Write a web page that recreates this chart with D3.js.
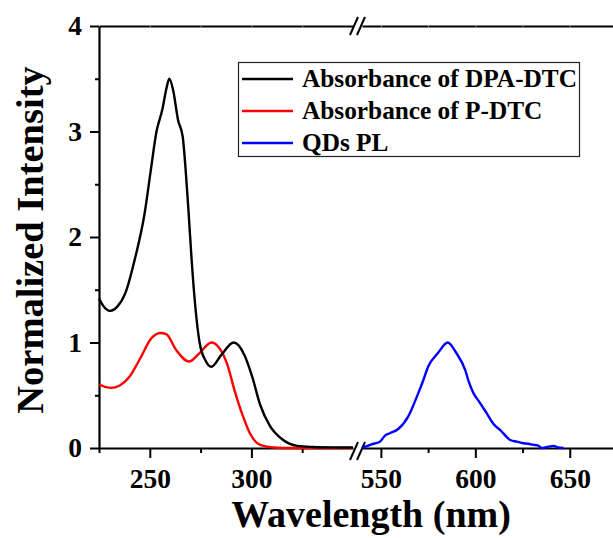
<!DOCTYPE html>
<html>
<head>
<meta charset="utf-8">
<script src="https://cdn.jsdelivr.net/npm/d3@7"></script>
<style>
  body { margin: 0; background: #fff; }
  svg text { font-family: "Liberation Serif", "Times New Roman", serif; font-weight: bold; fill: #000; }
</style>
</head>
<body>
<script>
// dati
var dpaWave = [225, 227, 230.5, 234, 238, 242.5, 247.5, 250.4, 253.3, 256.2, 258.1, 259.6, 261.4, 263.9, 266.2, 267.7, 269.1, 270.6, 272.5, 274.5, 277.4, 280.3, 285.1, 291.3, 296.6, 300.5, 304.3, 309.1, 315, 322.6, 330.4, 340, 350];
var dpaVal  = [1.42, 1.35, 1.30, 1.34, 1.47, 1.78, 2.23, 2.62, 3.00, 3.21, 3.40, 3.50, 3.40, 3.11, 2.95, 2.62, 2.23, 1.78, 1.32, 1.00, 0.83, 0.77, 0.88, 1.00, 0.88, 0.67, 0.41, 0.21, 0.085, 0.02, 0.01, 0.006, 0.005];

var pWave = [225, 228, 231, 235, 239.8, 245.6, 250.4, 255.2, 258.1, 262.9, 269.3, 274.5, 280.3, 284.1, 288, 291.8, 295.7, 299.5, 304.3, 311, 320, 335, 350];
var pVal  = [0.60, 0.58, 0.57, 0.59, 0.67, 0.86, 1.03, 1.09, 1.08, 0.93, 0.82, 0.90, 1.00, 0.95, 0.80, 0.54, 0.31, 0.13, 0.03, 0.005, 0.0, 0.0, 0.0];

var qdWave = [540, 545, 549.5, 552.3, 554.8, 559.2, 564.5, 569.8, 572.4, 575, 580.2, 585.4, 589.6, 594.8, 596.3, 599, 602, 606, 610, 613.2, 618.5, 622, 625.5, 628, 630.8, 633, 635.2, 638, 641.4, 644, 646.7];
var qdVal  = [0.0, 0.035, 0.06, 0.12, 0.14, 0.18, 0.30, 0.52, 0.64, 0.77, 0.90, 1.00, 0.91, 0.73, 0.64, 0.52, 0.44, 0.33, 0.22, 0.17, 0.076, 0.06, 0.045, 0.04, 0.03, 0.025, 0.0, 0.01, 0.02, 0.005, 0.0];

var yTicks = [0, 1, 2, 3, 4];
var yMinor = [0.5, 1.5, 2.5, 3.5];
var xTicksL = [250, 300];
var xMinorL = [225, 275, 325];
var xTicksR = [550, 600, 650];
var xMinorR = [575, 625];

var legendItems = [
  {label: "Absorbance of DPA-DTC", color: "#000000"},
  {label: "Absorbance of P-DTC", color: "#ff0000"},
  {label: "QDs PL", color: "#0000ff"}
];

var width = 613, height = 538;
var serif = "'Liberation Serif', 'Times New Roman', serif";

var svg = d3.select("body").append("svg")
    .attr("width", width)
    .attr("height", height);

// scale: asse x spezzato in due tratti
var xL = d3.scaleLinear().domain([225, 350]).range([99, 353]);
var xR = d3.scaleLinear().domain([540, 675]).range([362, 617]);
var y = d3.scaleLinear().domain([0, 4]).range([448, 26]);

function styleAxis(g) {
    g.attr("font-family", serif);
    g.select(".domain").attr("stroke", "#000").attr("stroke-width", 2.2);
    g.selectAll(".tick line").attr("stroke", "#000").attr("stroke-width", 2);
    g.selectAll(".tick text").attr("font-size", 27.5).attr("fill", "#000")
        .style("font-family", serif).style("font-weight", "bold");
}

// asse inferiore e superiore
[[xL, xTicksL, xMinorL], [xR, xTicksR, xMinorR]].forEach(function (s) {
    svg.append("g")
        .attr("transform", "translate(0,448)")
        .call(d3.axisBottom(s[0]).tickValues(s[2]).tickSize(5).tickSizeOuter(0).tickFormat(""))
        .call(styleAxis);
    svg.append("g")
        .attr("transform", "translate(0,448)")
        .call(d3.axisBottom(s[0]).tickValues(s[1]).tickSize(10).tickSizeOuter(0).tickPadding(10.5))
        .call(styleAxis)
        .select(".domain").remove();
    svg.append("g")
        .attr("transform", "translate(0,26)")
        .call(d3.axisTop(s[0]).tickValues(s[1].concat(s[2])).tickSize(-1.5).tickSizeOuter(0).tickFormat(""))
        .call(styleAxis)
        .selectAll(".tick line").attr("stroke", "#999").attr("stroke-width", 1);
});

// asse y
svg.append("g")
    .attr("transform", "translate(99,0)")
    .call(d3.axisLeft(y).tickValues(yMinor).tickSize(4).tickSizeOuter(0).tickFormat(""))
    .call(styleAxis);
svg.append("g")
    .attr("transform", "translate(99,0)")
    .call(d3.axisLeft(y).tickValues(yTicks).tickSize(9).tickSizeOuter(0).tickPadding(8).tickFormat(d3.format("d")))
    .call(styleAxis)
    .select(".domain").remove();

// simboli di interruzione //
[26, 451].forEach(function (cy) {
    [354, 361].forEach(function (cx) {
        svg.append("line")
            .attr("x1", cx - 4).attr("y1", cy + 9)
            .attr("x2", cx + 4).attr("y2", cy - 9)
            .attr("stroke", "#000").attr("stroke-width", 2);
    });
});

// curve
function drawCurve(xs, wave, vals, color) {
    var pts = wave.map(function (w, i) { return [w, vals[i]]; });
    var line = d3.line()
        .x(function (d) { return xs(d[0]); })
        .y(function (d) { return y(d[1]); })
        .curve(d3.curveMonotoneX);
    svg.append("path")
        .datum(pts)
        .attr("d", line)
        .attr("fill", "none")
        .attr("stroke", color)
        .attr("stroke-width", 2.4);
}

drawCurve(xL, pWave, pVal, "#ff0000");
drawCurve(xL, dpaWave, dpaVal, "#000000");
drawCurve(xR, qdWave, qdVal, "#0000ff");

// legenda
var legend = svg.append("g");
legend.append("rect")
    .attr("x", 238.5).attr("y", 62.5)
    .attr("width", 341).attr("height", 94)
    .attr("fill", "#fff").attr("stroke", "#222").attr("stroke-width", 1.2);

legendItems.forEach(function (d, i) {
    var ly = 79 + i * 32;
    legend.append("line")
        .attr("x1", 242).attr("x2", 293)
        .attr("y1", ly).attr("y2", ly)
        .attr("stroke", d.color).attr("stroke-width", 2.4);
    legend.append("text")
        .attr("x", 302).attr("y", ly + 8)
        .attr("font-size", 25.3)
        .style("font-family", serif)
        .text(d.label);
});

// titoli degli assi
svg.append("text")
    .attr("x", 371).attr("y", 527)
    .attr("text-anchor", "middle")
    .attr("font-size", 38)
    .style("font-family", serif)
    .text("Wavelength (nm)");

svg.append("text")
    .attr("transform", "translate(43,240) rotate(-90)")
    .attr("text-anchor", "middle")
    .attr("font-size", 38.5)
    .style("font-family", serif)
    .text("Normalized Intensity");
</script>
</body>
</html>
